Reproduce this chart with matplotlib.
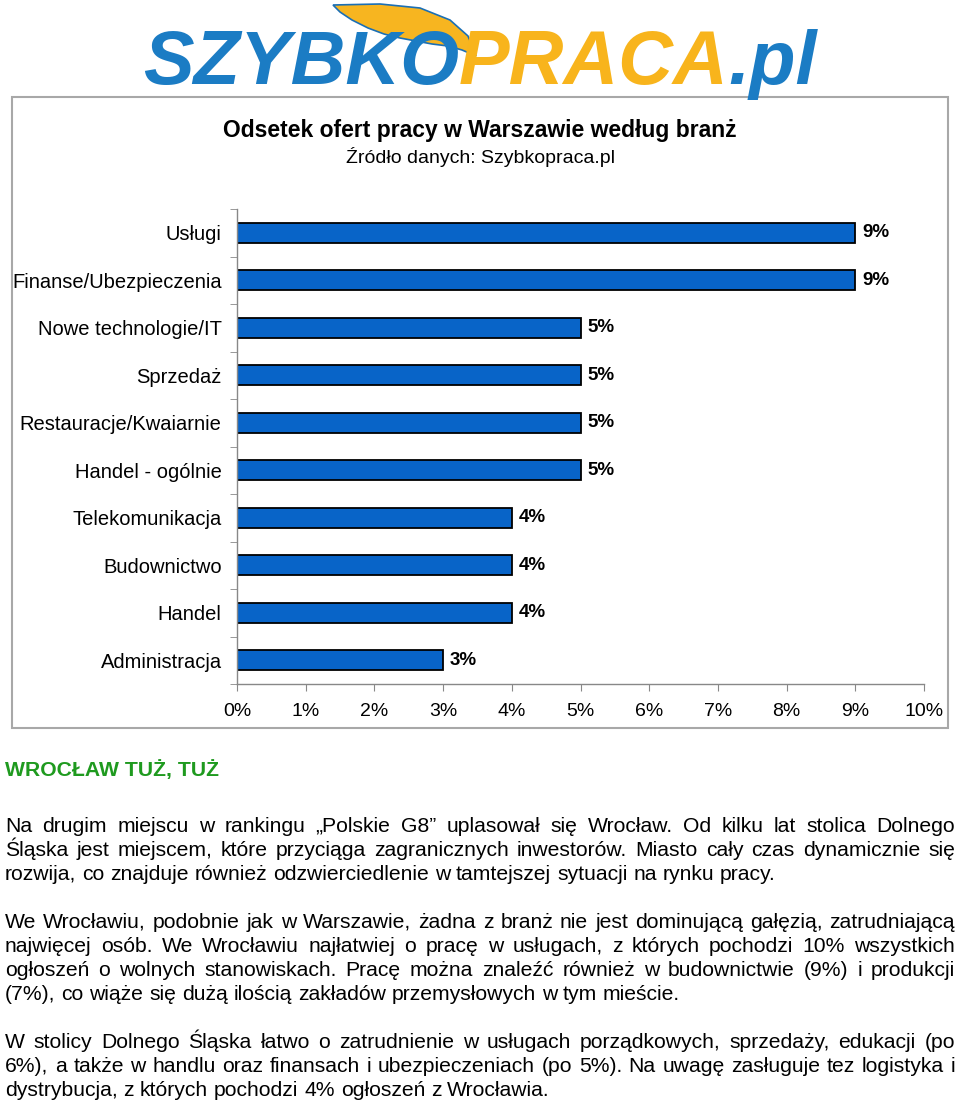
import matplotlib
matplotlib.use('Agg')
import matplotlib.pyplot as plt
from matplotlib.patches import Rectangle, Polygon

plt.rcParams['font.family'] = ['Liberation Sans', 'DejaVu Sans']

#DATA
categories = ['Usługi', 'Finanse/Ubezpieczenia', 'Nowe technologie/IT', 'Sprzedaż',
              'Restauracje/Kwaiarnie', 'Handel - ogólnie', 'Telekomunikacja',
              'Budownictwo', 'Handel', 'Administracja']
values = [9, 9, 5, 5, 5, 5, 4, 4, 4, 3]
xticks = [0, 1, 2, 3, 4, 5, 6, 7, 8, 9, 10]

title = 'Odsetek ofert pracy w Warszawie według branż'
subtitle = 'Źródło danych: Szybkopraca.pl'
heading = 'WROCŁAW TUŻ, TUŻ'
paragraphs = [
    ['Na drugim miejscu w rankingu „Polskie G8” uplasował się Wrocław. Od kilku lat stolica Dolnego',
     'Śląska jest miejscem, które przyciąga zagranicznych inwestorów. Miasto cały czas dynamicznie się',
     'rozwija, co znajduje również odzwierciedlenie w tamtejszej sytuacji na rynku pracy.'],
    ['We Wrocławiu, podobnie jak w Warszawie, żadna z branż nie jest dominującą gałęzią, zatrudniającą',
     'najwięcej osób. We Wrocławiu najłatwiej o pracę w usługach, z których pochodzi 10% wszystkich',
     'ogłoszeń o wolnych stanowiskach. Pracę można znaleźć również w budownictwie (9%) i produkcji',
     '(7%), co wiąże się dużą ilością zakładów przemysłowych w tym mieście.'],
    ['W stolicy Dolnego Śląska łatwo o zatrudnienie w usługach porządkowych, sprzedaży, edukacji (po',
     '6%), a także w handlu oraz finansach i ubezpieczeniach (po 5%). Na uwagę zasługuje tez logistyka i',
     'dystrybucja, z których pochodzi 4% ogłoszeń z Wrocławia.'],
]
logo_parts = [('SZYBKO', '#1b7cc4'), ('PRACA', '#f8b41c'), ('.pl', '#1b7cc4')]

W, H = 960, 1105
fig = plt.figure(figsize=(W / 100, H / 100), dpi=100)
renderer = fig.canvas.get_renderer()

def fx(x):
    return x / W

def fy(y):
    return 1 - y / H

def width_of(t):
    return t.get_window_extent(renderer).width

#LOGO
wing = [(333, 5), (380, 4), (420, 8), (450, 20), (468, 36), (476, 56), (462, 50), (448, 46),
        (432, 44), (416, 41), (400, 38), (384, 34), (368, 28), (352, 20), (340, 12)]
fig.patches.append(Polygon([(fx(a), fy(b)) for a, b in wing], closed=True,
                           transform=fig.transFigure, facecolor='#f7b520',
                           edgecolor='#1b6fb5', lw=1.2))
probe = fig.text(0, 0, ''.join(p for p, c in logo_parts), fontsize=50,
                 fontweight='heavy', style='italic')
logo_size = 50 * 675 / width_of(probe)
probe.remove()
x = 143
for part, col in logo_parts:
    t = fig.text(fx(x), fy(84), part, color=col, fontsize=logo_size,
                 fontweight='heavy', style='italic', va='baseline')
    x += width_of(t)

#CHART BOX
fig.patches.append(Rectangle((fx(12), fy(728)), fx(948) - fx(12), fy(97) - fy(728),
                             transform=fig.transFigure, fill=False,
                             edgecolor='#a8a8a8', lw=1.5))
fig.text(0.5, fy(130), title, ha='center', va='center', fontsize=16.5, fontweight='bold')
fig.text(0.5, fy(157), subtitle, ha='center', va='center', fontsize=14)

ax = fig.add_axes([fx(237), fy(684), fx(924) - fx(237), fy(209) - fy(684)])
pos = list(range(len(categories)))
ax.barh(pos, values, height=0.43, color='#0864c8', edgecolor='black', lw=1.3)
for p, v in zip(pos, values):
    ax.text(v + 0.1, p, '{}%'.format(v), va='center', ha='left',
            fontsize=13.5, fontweight='bold')
ax.set_xlim(0, 10)
ax.set_ylim(len(categories) - 0.5, -0.5)
ax.set_xticks(xticks)
ax.set_xticklabels(['{}%'.format(t) for t in xticks], fontsize=14)
ax.set_yticks(pos)
ax.set_yticklabels(categories, fontsize=14.5)
ax.set_yticks([p - 0.5 for p in pos] + [len(categories) - 0.5], minor=True)
ax.tick_params(axis='y', which='major', length=0, pad=11)
ax.tick_params(axis='y', which='minor', length=5, color='#888888', direction='out')
ax.tick_params(axis='x', length=5, color='#888888', pad=9)
for s in ['top', 'right']:
    ax.spines[s].set_visible(False)
for s in ['left', 'bottom']:
    ax.spines[s].set_color('#888888')
    ax.spines[s].set_linewidth(1.0)

#TEXT BELOW THE CHART
body_size = 15.2
fig.text(fx(5), fy(776), heading, color='#1f9a1f', fontsize=15.2,
         fontweight='bold', va='baseline')

sp = fig.text(0, 0, 'a a', fontsize=body_size)
sp2 = fig.text(0, 0, 'aa', fontsize=body_size)
space_w = width_of(sp) - width_of(sp2)
sp.remove(); sp2.remove()

def draw_line(line, y, justify, x0=5, x1=955):
    words = line.split(' ')
    objs = [fig.text(0, fy(y), w, fontsize=body_size, va='baseline', ha='left') for w in words]
    widths = [width_of(o) for o in objs]
    if justify and len(words) > 1:
        gap = (x1 - x0 - sum(widths)) / (len(words) - 1)
    else:
        gap = space_w
    x = x0
    for o, w in zip(objs, widths):
        o.set_x(fx(x))
        x += w + gap

y = 832
for para in paragraphs:
    for i, line in enumerate(para):
        draw_line(line, y, i < len(para) - 1)
        y += 24
    y += 24

fig.savefig('out.png', dpi=100)
